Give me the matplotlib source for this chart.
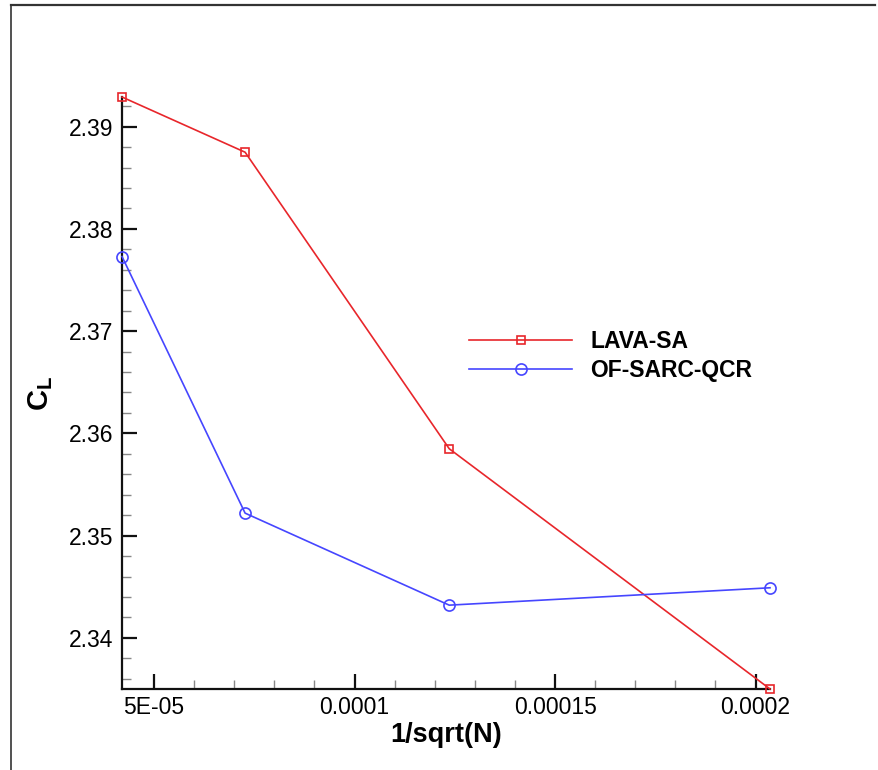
"""
Grid convergence of lift coefficient: C_L against 1/sqrt(N) for two solvers.
"""

import matplotlib
matplotlib.use("Agg")
import matplotlib.pyplot as plt
from matplotlib.lines import Line2D
from matplotlib.ticker import MultipleLocator

plt.rcParams["font.family"] = ["Liberation Sans", "DejaVu Sans"]
plt.rcParams["mathtext.fontset"] = "custom"
plt.rcParams["mathtext.rm"] = "Liberation Sans"
plt.rcParams["mathtext.bf"] = "Liberation Sans:bold"

# data
inv_sqrt_n = [4.20e-05, 7.27e-05, 1.236e-04, 2.036e-04]
lava_sa = [2.3929, 2.3875, 2.3585, 2.3350]
of_sarc_qcr = [2.3773, 2.3522, 2.3432, 2.3449]

x_ticks = [5e-05, 1e-04, 1.5e-04, 2e-04]
x_tick_labels = ["5E-05", "0.0001", "0.00015", "0.0002"]
y_ticks = [2.34, 2.35, 2.36, 2.37, 2.38, 2.39]
y_tick_labels = ["2.34", "2.35", "2.36", "2.37", "2.38", "2.39"]

fig = plt.figure(figsize=(8.79, 7.7), dpi=100)
ax = fig.add_axes([0.1388, 0.1052, 0.7372, 0.7688])

ax.plot(inv_sqrt_n, lava_sa, color="#e8262b", lw=1.2, marker="s", ms=6,
        mfc="none", mec="#e8262b", mew=1.2, label="LAVA-SA", clip_on=False, zorder=3)
ax.plot(inv_sqrt_n, of_sarc_qcr, color="#4646ff", lw=1.2, marker="o", ms=8,
        mfc="none", mec="#4646ff", mew=1.2, label="OF-SARC-QCR", clip_on=False, zorder=3)

ax.set_xlim(min(inv_sqrt_n), max(inv_sqrt_n))
ax.set_ylim(min(lava_sa), max(lava_sa))

ax.set_xticks(x_ticks)
ax.set_xticklabels(x_tick_labels)
ax.set_yticks(y_ticks)
ax.set_yticklabels(y_tick_labels)
ax.xaxis.set_minor_locator(MultipleLocator(1e-05))
ax.yaxis.set_minor_locator(MultipleLocator(0.002))

for side in ("top", "right"):
    ax.spines[side].set_visible(False)
for side in ("left", "bottom"):
    ax.spines[side].set_linewidth(1.6)
    ax.spines[side].set_color("#111111")

ax.tick_params(which="major", direction="in", length=10.5, width=1.6, color="#111111",
               labelsize=16.5, pad=6)
ax.tick_params(which="minor", direction="in", length=6.5, width=1.0, color="#888888")
ax.tick_params(axis="x", which="major", pad=5)

ax.set_xlabel("1/sqrt(N)", fontsize=19.5, fontweight="bold", labelpad=2)
ax.set_ylabel(r"$\mathbf{C_L}$", fontsize=21, labelpad=10)

ax.legend(loc="center left", bbox_to_anchor=(0.5355, 0.5625), frameon=False,
          prop={"weight": "bold", "size": 16.5},
          handlelength=4.5, handletextpad=0.8, labelspacing=0.28,
          borderpad=0, borderaxespad=0)

# page frame on the left and top edges
fig.add_artist(Line2D([11 / 879, 11 / 879], [0, 1 - 5 / 770], transform=fig.transFigure,
                      color="#333333", lw=1.2))
fig.add_artist(Line2D([11 / 879, 875 / 879], [1 - 5 / 770, 1 - 5 / 770], transform=fig.transFigure,
                      color="#333333", lw=1.6))

fig.savefig("out.png", dpi=100)
